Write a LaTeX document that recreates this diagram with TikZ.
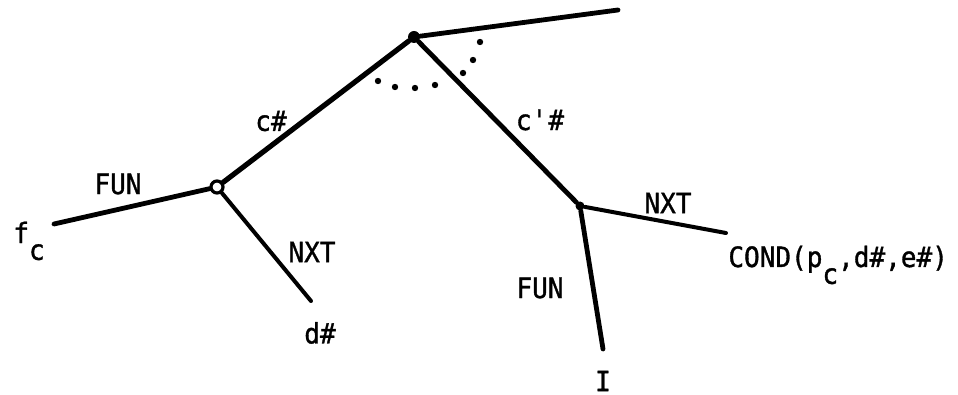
\documentclass[tikz,border=0pt]{standalone}
\usepackage{fontspec}
\newfontfamily\lblfont[FakeStretch=0.93, FakeBold=1.2]{DejaVu Sans Mono}
\newcommand{\dn}[1]{\raisebox{-1.1ex}{#1}}
\begin{document}
\begin{tikzpicture}[x=0.5pt, y=-0.5pt,
  every node/.style={font=\lblfont\fontsize{14}{17}\selectfont},
  bond/.style={line width=2.4pt, line cap=round},
  dot/.style={circle, fill, inner sep=0pt, minimum size=#1},
  ring/.style={circle, draw, line width=1.6pt, fill=white, inner sep=0pt, minimum size=6pt}]
\useasboundingbox (0,0) rectangle (958,395);

\node at (414,37) [dot=6pt] (T) {};
\node at (217,187) [ring] (L) {};
\node at (580,206) [dot=4.5pt] (R) {};
\coordinate (E) at (618,10);
\coordinate (FE) at (54,224);
\coordinate (DE) at (311,301);
\coordinate (CE) at (726,233);
\coordinate (IE) at (603,349);

\draw[bond] (T) -- (E);
\draw[bond, line width=2.6pt] (T) -- (L);
\draw[bond] (T) -- (R);
\draw[bond] (L) -- (FE);
\draw[bond, line width=2pt] (L) -- (DE);
\draw[bond, line width=2pt] (R) -- (CE);
\draw[bond] (R) -- (IE);

% dotted angle at the top
\foreach \p in {(378,81),(395,87),(415,88),(435,85),(463,73),(473,60),(480,42)}
  \fill \p circle (1.6pt);

\node at (13,243) [anchor=base west, inner sep=0pt] (FC) {f\dn{c}};
\node at (118,184) (FUN1) {FUN};
\node at (271,121) (C) {c\#};
\node at (312,252) (NXT1) {NXT};
\node at (320,333) (D) {d\#};
\node at (540,120) (CP) {c\textquotesingle\#};
\node at (668,203) (NXT2) {NXT};
\node at (728,267) [anchor=base west, inner sep=0pt] (COND) {COND(p\dn{c},d\#,e\#)};
\node at (540,288) (FUN2) {FUN};
\node at (603,381) (I) {I};
\end{tikzpicture}
\end{document}
